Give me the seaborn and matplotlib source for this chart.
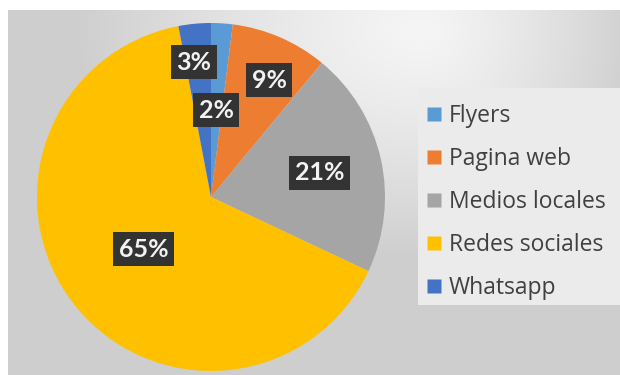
import numpy as np
import matplotlib
matplotlib.use("Agg")
import matplotlib.pyplot as plt
from matplotlib.lines import Line2D
from matplotlib.patches import Rectangle
import seaborn as sns

# Survey: channels through which people heard about the service
categories = ["Flyers", "Pagina web", "Medios locales", "Redes sociales", "Whatsapp"]
shares = [2, 9, 21, 65, 3]
pct_labels = [f"{v}%" for v in shares]
colors = ["#5B9BD5", "#ED7D31", "#A5A5A5", "#FFC000", "#4472C4"]

sns.set_theme(style="white")
plt.rcParams["font.family"] = ["Lato", "DejaVu Sans"]

W, H = 620, 375
fig = plt.figure(figsize=(W / 100, H / 100), dpi=100, facecolor="white")

# soft gray backdrop with a light spot near the top
bg = fig.add_axes([0, 0, 1, 1])
bg.axis("off")
yy, xx = np.mgrid[0:H, 0:W].astype(float)
dx = xx - 420
dx = np.where(dx > 0, dx * 1.6, dx)
d = np.sqrt(dx ** 2 + (1.5 * (yy - 20)) ** 2)
val = 0.96 - 0.15 * np.clip(d / 350, 0, 1) ** 1.3
img = np.dstack([val, val, val])
bg.imshow(img, extent=(8, W, H, 10), interpolation="bilinear", zorder=0)
# lighter panel behind the legend
bg.add_patch(Rectangle((418, 88), W - 418, 217, fc="#ebebeb", ec="none", zorder=1))
bg.set_xlim(0, W)
bg.set_ylim(H, 0)

# pie
cx, cy, r = 211, 197, 174
ax = fig.add_axes([(cx - r) / W, (H - cy - r) / H, 2 * r / W, 2 * r / H])
ax.set_facecolor("none")
wedges, _ = ax.pie(shares, colors=colors, startangle=90, counterclock=False,
                   wedgeprops=dict(linewidth=0))
ax.set_xlim(-1, 1)
ax.set_ylim(-1, 1)
ax.set_aspect("equal")
ax.axis("off")

# percentage labels in dark boxes (best-fit style placement)
label_radius = [0.50, 0.75, 0.64, 0.49, 0.78]
label_turn = [0, -3, 0, 0, 2]  # degrees, nudging labels off the wedge bisector
for w, txt, rad, turn in zip(wedges, pct_labels, label_radius, label_turn):
    mid = np.deg2rad((w.theta1 + w.theta2) / 2 + turn)
    ax.text(rad * np.cos(mid), rad * np.sin(mid), txt,
            ha="center", va="center",
            fontsize=18, fontweight="bold", color="#f2f2f2",
            bbox=dict(boxstyle="square,pad=0.22", fc="#333333", ec="none"))

# legend
handles = [Line2D([], [], marker="s", linestyle="none", markersize=10,
                  markerfacecolor=c, markeredgecolor="none") for c in colors]
leg = fig.legend(handles, categories, loc="upper left",
                 bbox_to_anchor=(427 / W, 1 - 104 / H), bbox_transform=fig.transFigure,
                 frameon=False, prop={"family": "Open Sans", "size": 16.5},
                 labelcolor="#404040",
                 handlelength=0.65, handletextpad=0.3, labelspacing=0.83,
                 borderpad=0, borderaxespad=0)

fig.savefig("out.png", dpi=100, facecolor="white")
